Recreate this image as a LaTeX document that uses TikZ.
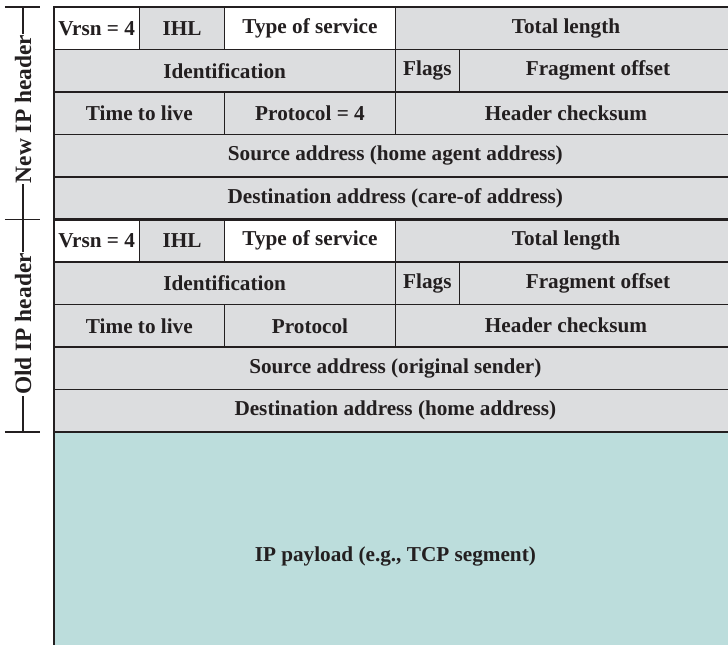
\documentclass[tikz,border=0pt]{standalone}
\usepackage{fontspec}
\setmainfont{Liberation Serif}
\usepackage{tikz}
\usetikzlibrary{calc,positioning}
\usepackage{xcolor}

\definecolor{lin}{HTML}{231F20}
\definecolor{gry}{HTML}{DCDDDF}
\definecolor{pay}{HTML}{BCDDDC}
\newcommand\cellfnt{\fontsize{21.3}{25}\selectfont\bfseries}
\newcommand\hdrfnt{\fontsize{23.5}{27}\selectfont\bfseries}

\begin{document}
\begin{tikzpicture}[
  x=1bp, y=1bp,
  cell/.style={draw=lin, line width=1.5bp, fill=gry, minimum height=42.5bp, anchor=north west, inner sep=0pt, outer sep=0pt, font=\cellfnt, text=lin},
  wcell/.style={cell, fill=white},
  hdr/.style={rotate=90, inner sep=1bp, font=\hdrfnt, text=lin},
  edge/.style={draw=lin, line width=2.8bp},
  brk/.style={draw=lin, line width=1.3bp}
]
\useasboundingbox (0,0) rectangle (728,-645);
\clip (0,0) rectangle (728,-645);

% new IP header
\node[wcell, minimum width=85.33bp] (vrsnA) at (54,-7) {Vrsn = 4};
\node[cell, minimum width=85.33bp] (ihlA) at (139.33,-7) {IHL};
\node[wcell, minimum width=170.67bp] (tosA) at (224.67,-7) {Type of service};
\node[cell, minimum width=341.33bp] (lenA) at (395.33,-7) {Total length};
\node[cell, minimum width=341.33bp] (idA) at (54,-49.5) {Identification};
\node[cell, minimum width=64bp] (flgA) at (395.33,-49.5) {Flags};
\node[cell, minimum width=277.33bp] (fragA) at (459.33,-49.5) {Fragment offset};
\node[cell, minimum width=170.67bp] (ttlA) at (54,-92) {Time to live};
\node[cell, minimum width=170.67bp] (protA) at (224.67,-92) {Protocol = 4};
\node[cell, minimum width=341.33bp] (chkA) at (395.33,-92) {Header checksum};
\node[cell, minimum width=682.67bp] (srcA) at (54,-134.5) {Source address (home agent address)};
\node[cell, minimum width=682.67bp] (dstA) at (54,-177) {Destination address (care-of address)};

% old IP header
\node[wcell, minimum width=85.33bp] (vrsnB) at (54,-219.5) {Vrsn = 4};
\node[cell, minimum width=85.33bp] (ihlB) at (139.33,-219.5) {IHL};
\node[wcell, minimum width=170.67bp] (tosB) at (224.67,-219.5) {Type of service};
\node[cell, minimum width=341.33bp] (lenB) at (395.33,-219.5) {Total length};
\node[cell, minimum width=341.33bp] (idB) at (54,-262) {Identification};
\node[cell, minimum width=64bp] (flgB) at (395.33,-262) {Flags};
\node[cell, minimum width=277.33bp] (fragB) at (459.33,-262) {Fragment offset};
\node[cell, minimum width=170.67bp] (ttlB) at (54,-304.5) {Time to live};
\node[cell, minimum width=170.67bp] (protB) at (224.67,-304.5) {Protocol};
\node[cell, minimum width=341.33bp] (chkB) at (395.33,-304.5) {Header checksum};
\node[cell, minimum width=682.67bp] (srcB) at (54,-347) {Source address (original sender)};
\node[cell, minimum width=682.67bp] (dstB) at (54,-389.5) {Destination address (home address)};

% payload
\node[cell, fill=pay, minimum width=682.67bp, minimum height=248bp] (load) at (54,-432) {IP payload (e.g., TCP segment)};

% heavy borders
\draw[edge] (vrsnA.north west) -- (lenA.north east);
\draw[edge] (vrsnA.north west) -- (54,-645);
\draw[edge] (load.north west) -- (load.north east);
\draw[draw=lin, line width=2.2bp] (vrsnB.north west) -- (lenB.north east);

% side labels
\coordinate (tA) at (23,-7);
\coordinate (tB) at (23,-219.5);
\coordinate (tC) at (23,-432);
\node[hdr] (newlbl) at (23,-109) {New IP header};
\node[hdr] (oldlbl) at (23,-324) {Old IP header};
\draw[brk] ([xshift=-18bp]tA) -- ([xshift=17bp]tA);
\draw[brk] ([xshift=-18bp]tB) -- ([xshift=17bp]tB);
\draw[brk] ([xshift=-18bp]tC) -- ([xshift=17bp]tC);
\draw[brk] (tA) -- (newlbl.east);
\draw[brk] (newlbl.west) -- (tB);
\draw[brk] (tB) -- (oldlbl.east);
\draw[brk] (oldlbl.west) -- (tC);
\end{tikzpicture}
\end{document}
